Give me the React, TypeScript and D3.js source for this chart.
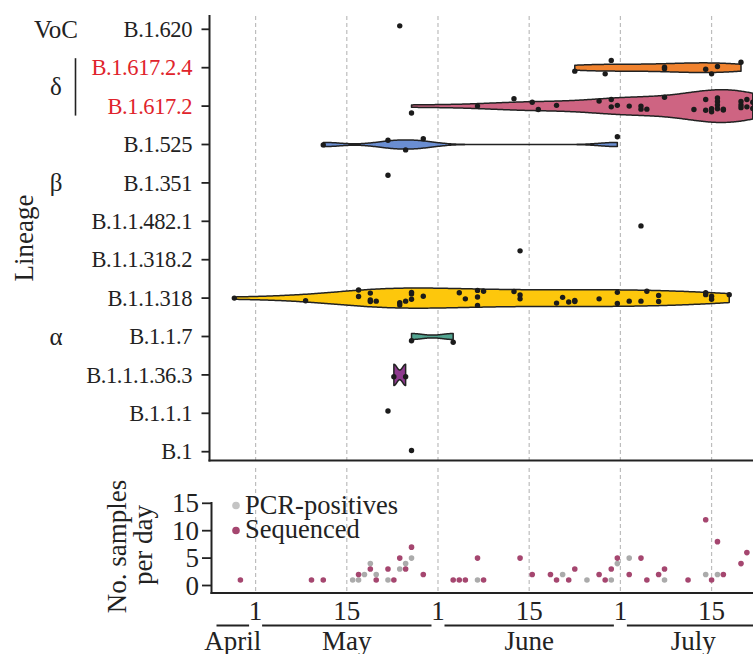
import React, { useEffect, useRef } from "react";
import * as d3 from "d3";

// lineages, top to bottom
const lineages = [
  "B.1.620", "B.1.617.2.4", "B.1.617.2", "B.1.525", "B.1.351", "B.1.1.482.1",
  "B.1.1.318.2", "B.1.1.318", "B.1.1.7", "B.1.1.1.36.3", "B.1.1.1", "B.1",
];
const redLineages = ["B.1.617.2.4", "B.1.617.2"];

// variant labels: [label, first lineage, last lineage]
const groups: [string, string, string][] = [
  ["VoC", "B.1.620", "B.1.620"],
  ["δ", "B.1.617.2.4", "B.1.617.2"],
  ["β", "B.1.351", "B.1.351"],
  ["α", "B.1.1.7", "B.1.1.7"],
];

// sequenced samples per lineage: [month-day (2021), vertical jitter in rows]
const b1620: [string, number][] = [["05-25", -0.09]];
const b16172_4: [string, number][] = [
  ["06-23", 0.09], ["06-28", 0.16], ["06-29", -0.19], ["07-08", -0.01], ["07-08", 0.03],
  ["07-15", 0.04], ["07-16", 0.16], ["07-17", -0.03], ["07-21", -0.14],
];
const b16172: [string, number][] = [
  ["05-27", 0.18], ["06-07", 0], ["06-13", -0.19], ["06-16", -0.1], ["06-17", 0.09],
  ["06-20", -0.02], ["06-27", -0.13], ["06-29", -0.17], ["06-29", 0.02], ["06-30", -0.02],
  ["07-02", 0], ["07-04", 0.08], ["07-04", 0], ["07-05", 0.08], ["07-08", -0.23],
  ["07-13", 0.09], ["07-15", -0.17], ["07-15", 0.11], ["07-16", 0.15], ["07-16", 0.07],
  ["07-17", -0.21], ["07-17", -0.12], ["07-17", -0.03], ["07-17", 0.07], ["07-18", 0.1],
  ["07-18", 0.08], ["07-21", -0.12], ["07-21", -0.03], ["07-21", 0.04], ["07-22", -0.17],
  ["07-22", 0.02], ["07-23", -0.1], ["07-23", 0.06],
];
const b1525: [string, number][] = [
  ["05-12", 0.01], ["05-23", -0.11], ["05-26", 0.14], ["05-29", -0.15], ["06-30", -0.2],
];
const b1351: [string, number][] = [["05-23", -0.2]];
const b11482_1: [string, number][] = [["07-04", 0.12]];
const b11318_2: [string, number][] = [["06-14", -0.23]];
const b11318: [string, number][] = [
  ["04-27", 0], ["05-09", 0.07], ["05-18", -0.21], ["05-18", -0.04], ["05-20", -0.13],
  ["05-20", 0.05], ["05-20", 0.09], ["05-21", 0.08], ["05-25", 0.12], ["05-25", 0.18],
  ["05-26", 0.08], ["05-27", 0.03], ["05-27", -0.11], ["05-27", -0.15], ["05-29", -0.05],
  ["06-04", -0.14], ["06-05", 0.02], ["06-07", -0.2], ["06-07", -0.03], ["06-07", 0.19],
  ["06-08", -0.18], ["06-13", -0.17], ["06-14", -0.08], ["06-14", 0.02], ["06-20", 0.13],
  ["06-21", -0.02], ["06-22", 0.1], ["06-23", 0.06], ["06-23", 0.09], ["06-27", 0.02],
  ["06-30", -0.15], ["06-30", 0.14], ["07-02", 0.08], ["07-04", 0.08], ["07-05", -0.18],
  ["07-07", -0.07], ["07-07", 0.09], ["07-15", -0.14], ["07-15", -0.09], ["07-16", -0.05],
  ["07-16", 0.03], ["07-19", -0.09],
];
const b117: [string, number][] = [["05-27", 0.11], ["06-03", 0.15]];
const b111363: [string, number][] = [["05-24", 0.05], ["05-26", 0.05]];
const b111: [string, number][] = [["05-23", -0.06]];
const b1: [string, number][] = [["05-27", -0.03]];

// samples per day: [month-day, count]
const pcrPositives: [string, number][] = [
  ["05-17", 1], ["05-18", 1], ["05-19", 2], ["05-20", 4], ["05-21", 2], ["05-23", 1],
  ["05-25", 3], ["05-26", 4], ["05-27", 5], ["06-07", 1], ["06-21", 2], ["06-25", 1],
  ["06-29", 1], ["06-30", 4], ["07-02", 5], ["07-08", 1], ["07-15", 2], ["07-17", 2],
];
const sequenced: [string, number][] = [
  ["04-28", 1], ["05-10", 1], ["05-12", 1], ["05-18", 2], ["05-20", 3], ["05-21", 1],
  ["05-23", 3], ["05-24", 1], ["05-25", 5], ["05-26", 3], ["05-27", 7], ["05-29", 2],
  ["06-03", 1], ["06-04", 1], ["06-05", 1], ["06-07", 5], ["06-08", 1], ["06-14", 5],
  ["06-16", 2], ["06-19", 2], ["06-20", 1], ["06-22", 1], ["06-23", 3], ["06-27", 2],
  ["06-28", 1], ["06-29", 3], ["06-30", 5], ["07-02", 2], ["07-04", 5], ["07-05", 1],
  ["07-07", 2], ["07-08", 3], ["07-12", 1], ["07-15", 12], ["07-16", 1], ["07-17", 8],
  ["07-18", 2], ["07-21", 4], ["07-22", 6],
];

const months: [string, number][] = [["April", 4], ["May", 5], ["June", 6], ["July", 7]];
const gridTicks = [5, 5.5, 6, 6.5, 7, 7.5]; // 1st and 15th of each month
const countTicks = [0, 5, 10, 15];

const samplesByLineage: Record<string, [string, number][]> = {
  "B.1.620": b1620, "B.1.617.2.4": b16172_4, "B.1.617.2": b16172, "B.1.525": b1525,
  "B.1.351": b1351, "B.1.1.482.1": b11482_1, "B.1.1.318.2": b11318_2, "B.1.1.318": b11318,
  "B.1.1.7": b117, "B.1.1.1.36.3": b111363, "B.1.1.1": b111, "B.1": b1,
};

const violinFill: Record<string, string> = {
  "B.1.617.2.4": "#F0822E",
  "B.1.617.2": "#CE6482",
  "B.1.525": "#6A8ED2",
  "B.1.1.318": "#FDC70C",
  "B.1.1.7": "#52A490",
  "B.1.1.1.36.3": "#8E3A8E",
};

const W = 753;
const H = 654;
const FONT = "'Liberation Serif','Times New Roman',serif";
const INK = "#222";
const violinScale = 0.013;

// month as a number, days placed at noon
function monthPos(md: string) {
  const [mo, d] = md.split("-").map(Number);
  const days = new Date(2021, mo, 0).getDate();
  return mo + (d - 0.5) / days;
}

// R's bw.nrd0
function bwNrd0(xs: number[]) {
  const s = xs.slice().sort((a, b) => a - b);
  const hi = d3.deviation(s) || 0;
  const iqr = (d3.quantileSorted(s, 0.75)! - d3.quantileSorted(s, 0.25)!) / 1.34;
  let lo = Math.min(hi, iqr);
  if (!lo) lo = hi || Math.abs(s[0]) || 1;
  return 0.9 * lo * Math.pow(s.length, -0.2);
}

function Chart() {
  const ref = useRef<SVGSVGElement>(null);

  useEffect(() => {
    const svg = d3.select(ref.current);
    svg.selectAll("*").remove();

    const x = d3.scaleLinear().domain([4.75, 7.8]).range([210, 766.3]);
    const y = d3.scalePoint<string>().domain(lineages).range([29.3, 451.7]);
    const step = y.step();
    const yn = d3.scaleLinear().domain([0, 15]).range([585.5, 503.3]);

    svg.append("rect").attr("width", W).attr("height", H).attr("fill", "#fff");

    // dashed guides
    const guides = svg.append("g")
      .attr("stroke", "#bdbdbd").attr("stroke-width", 1.2).attr("stroke-dasharray", "4,3");
    guides.selectAll(".gt").data(gridTicks).join("line")
      .attr("x1", d => x(d)).attr("x2", d => x(d)).attr("y1", 16).attr("y2", 460);
    guides.selectAll(".gb").data(gridTicks).join("line")
      .attr("x1", d => x(d)).attr("x2", d => x(d)).attr("y1", 468).attr("y2", 592);

    // violins
    const area = d3.area<{ p: number; w: number }>()
      .x(d => x(d.p));
    lineages.forEach(lin => {
      const pts = samplesByLineage[lin].map(d => monthPos(d[0]));
      if (pts.length < 2) return;
      const n = pts.length;
      const bw = bwNrd0(pts);
      const [lo, hi] = d3.extent(pts) as [number, number];
      const grid = d3.range(0, 301).map(i => lo + ((hi - lo) * i) / 300);
      const dens = grid.map(g =>
        d3.sum(pts, v => Math.exp(-0.5 * ((g - v) / bw) ** 2)) / (n * bw * Math.sqrt(2 * Math.PI))
      );
      const yc = y(lin)!;
      const shape = grid.map((p, i) => ({ p, w: n * dens[i] * violinScale * step }));
      svg.append("path")
        .datum(shape)
        .attr("d", area.y0(d => yc - d.w).y1(d => yc + d.w))
        .attr("fill", violinFill[lin])
        .attr("stroke", INK)
        .attr("stroke-width", 1.5)
        .attr("stroke-linejoin", "round");
    });

    // jittered samples
    const dots = lineages.flatMap(lin =>
      samplesByLineage[lin].map(([d, j]) => ({ lin, p: monthPos(d), j }))
    );
    svg.append("g").selectAll("circle").data(dots).join("circle")
      .attr("cx", d => x(d.p))
      .attr("cy", d => y(d.lin)! + d.j * step)
      .attr("r", 2.7)
      .attr("fill", "#1b1b1b");

    // top axes
    svg.append("line").attr("x1", 209.5).attr("x2", 209.5).attr("y1", 15).attr("y2", 461.5)
      .attr("stroke", INK).attr("stroke-width", 2);
    svg.append("line").attr("x1", 208.5).attr("x2", W).attr("y1", 460.5).attr("y2", 460.5)
      .attr("stroke", INK).attr("stroke-width", 2);
    svg.append("g").selectAll("line").data(lineages).join("line")
      .attr("x1", 201.5).attr("x2", 209.5)
      .attr("y1", d => y(d)!).attr("y2", d => y(d)!)
      .attr("stroke", INK).attr("stroke-width", 1.8);
    svg.append("g").selectAll("text").data(lineages).join("text")
      .attr("x", 192).attr("y", d => y(d)!).attr("dy", "0.34em")
      .attr("text-anchor", "end")
      .attr("font-family", FONT).attr("font-size", 22.5).attr("letter-spacing", -0.4)
      .attr("fill", d => (redLineages.includes(d) ? "#E0232B" : INK))
      .text(d => d);

    // variant groups
    groups.forEach(([label, from, to]) => {
      const y0 = y(from)!;
      const y1 = y(to)!;
      svg.append("text")
        .attr("x", 56).attr("y", (y0 + y1) / 2).attr("dy", "0.34em")
        .attr("text-anchor", "middle")
        .attr("font-family", FONT).attr("font-size", 25).attr("fill", INK)
        .text(label);
      if (from !== to) {
        svg.append("line")
          .attr("x1", 75.5).attr("x2", 75.5).attr("y1", y0 - 9.5).attr("y2", y1 + 9.5)
          .attr("stroke", INK).attr("stroke-width", 1.6);
      }
    });

    svg.append("text")
      .attr("transform", "translate(33,238) rotate(-90)")
      .attr("text-anchor", "middle")
      .attr("font-family", FONT).attr("font-size", 27).attr("fill", INK)
      .text("Lineage");

    // samples per day panel
    svg.append("g").selectAll("circle").data(pcrPositives).join("circle")
      .attr("cx", d => x(monthPos(d[0])))
      .attr("cy", d => yn(d[1]))
      .attr("r", 2.8)
      .attr("fill", "#ababab");
    svg.append("g").selectAll("circle").data(sequenced).join("circle")
      .attr("cx", d => x(monthPos(d[0])))
      .attr("cy", d => yn(d[1]))
      .attr("r", 2.8)
      .attr("fill", "#A5466F");

    svg.append("line").attr("x1", 211.5).attr("x2", 211.5).attr("y1", 502).attr("y2", 594)
      .attr("stroke", INK).attr("stroke-width", 2);
    svg.append("line").attr("x1", 210.5).attr("x2", W).attr("y1", 593).attr("y2", 593)
      .attr("stroke", INK).attr("stroke-width", 2.2);
    svg.append("g").selectAll("line").data(countTicks).join("line")
      .attr("x1", 202).attr("x2", 211.5)
      .attr("y1", d => yn(d)).attr("y2", d => yn(d))
      .attr("stroke", INK).attr("stroke-width", 1.8);
    svg.append("g").selectAll("text").data(countTicks).join("text")
      .attr("x", 199).attr("y", d => yn(d)).attr("dy", "0.34em")
      .attr("text-anchor", "end")
      .attr("font-family", FONT).attr("font-size", 27).attr("fill", INK)
      .text(d => d);

    svg.append("text")
      .attr("transform", "translate(126,546.5) rotate(-90)")
      .attr("text-anchor", "middle")
      .attr("font-family", FONT).attr("font-size", 27).attr("fill", INK)
      .text("No. samples");
    svg.append("text")
      .attr("transform", "translate(151.5,545) rotate(-90)")
      .attr("text-anchor", "middle")
      .attr("font-family", FONT).attr("font-size", 27).attr("fill", INK)
      .text("per day");

    // legend
    const legend: [string, string][] = [["PCR-positives", "#c4c4c4"], ["Sequenced", "#A5466F"]];
    legend.forEach(([label, color], i) => {
      svg.append("circle").attr("cx", 236).attr("cy", 505.5 + i * 25).attr("r", 3.8).attr("fill", color);
      svg.append("text")
        .attr("x", 245).attr("y", 513.5 + i * 24)
        .attr("font-family", FONT).attr("font-size", 26.5).attr("fill", INK)
        .text(label);
    });

    // date axis
    svg.append("g").selectAll("text").data(gridTicks).join("text")
      .attr("x", d => x(d)).attr("y", 620)
      .attr("text-anchor", "middle")
      .attr("font-family", FONT).attr("font-size", 27).attr("fill", INK)
      .text(d => (d % 1 === 0 ? "1" : "15"));

    const [d0, d1] = x.domain();
    const inset = 6.5;
    months.forEach(([name, m]) => {
      const a = x(Math.max(m, d0)) + inset;
      const b = x(Math.min(m + 1, d1)) - inset;
      svg.append("line").attr("x1", a).attr("x2", b).attr("y1", 625.5).attr("y2", 625.5)
        .attr("stroke", INK).attr("stroke-width", 1.8);
      svg.append("text")
        .attr("x", (a + b) / 2).attr("y", 650)
        .attr("text-anchor", "middle")
        .attr("font-family", FONT).attr("font-size", 27).attr("fill", INK)
        .text(name);
    });
  }, []);

  return (
    <svg
      ref={ref}
      width={W}
      height={H}
      style={{ position: "absolute", left: 0, top: 0, overflow: "hidden", display: "block" }}
    />
  );
}

export default function App() {
  return <Chart />;
}
